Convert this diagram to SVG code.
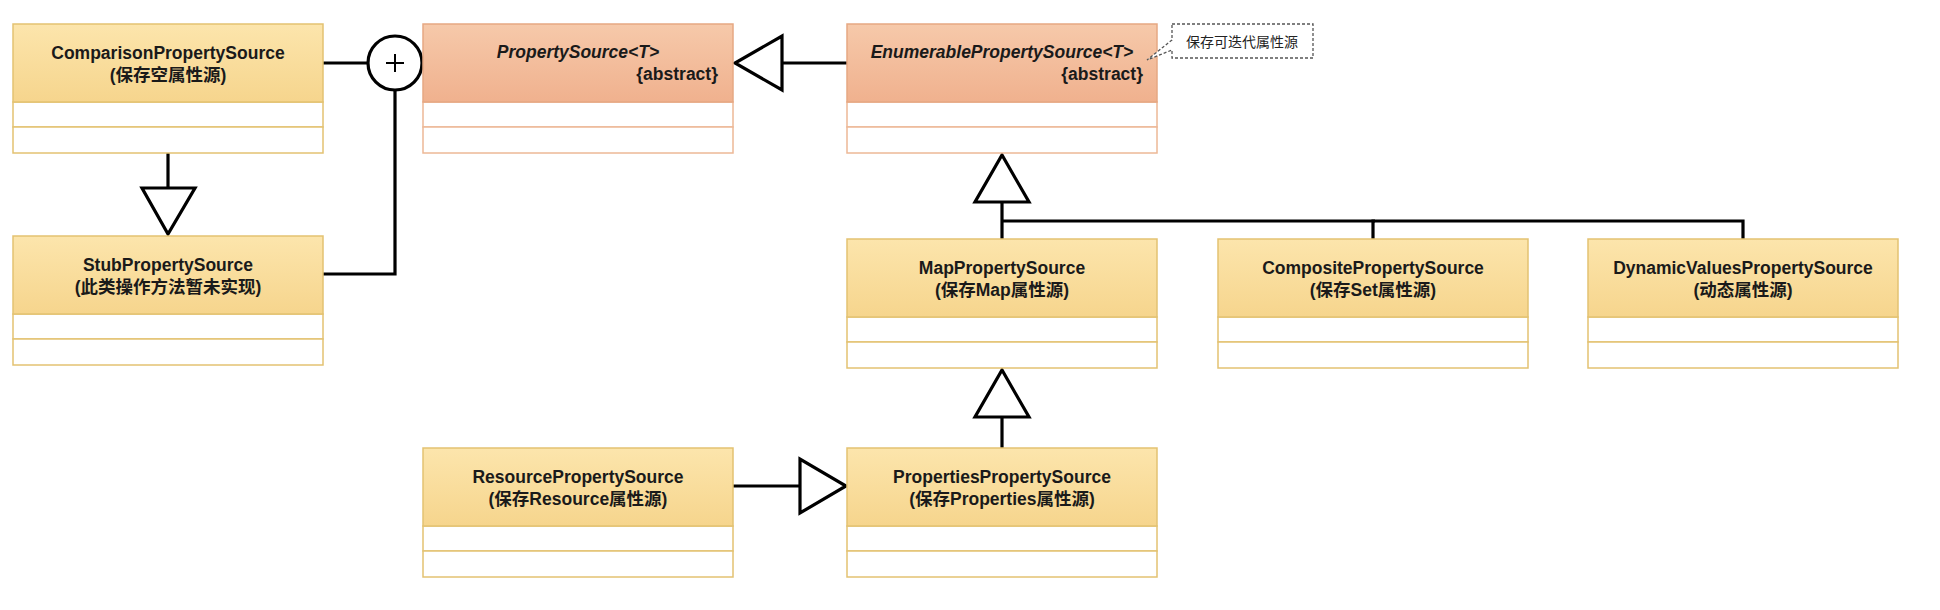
<svg xmlns="http://www.w3.org/2000/svg" width="1940" height="610" viewBox="0 0 1940 610">
<style>
.hdr{fill:url(#gy);stroke:#E3C272;stroke-width:1.5}
.hdra{fill:url(#go);stroke:#E6A883;stroke-width:1.5}
.cmp{fill:#FFFFFF;stroke:#E3C272;stroke-width:1.5}
.cmpa{fill:#FFFFFF;stroke:#EDB896;stroke-width:1.5}
.t{font-family:"Liberation Sans","Noto Sans CJK SC",sans-serif;font-weight:bold;font-size:17.5px;fill:#1a1a1a;text-anchor:middle}
.ti{font-style:italic}
.ab{text-anchor:end}
.note{font-family:"Noto Sans CJK SC",sans-serif;font-size:14px;fill:#222;text-anchor:middle}
.ln{fill:none;stroke:#000;stroke-width:3.2}
.tri{fill:#FFFFFF;stroke:#000;stroke-width:3.2;stroke-linejoin:miter}
</style>
<defs>
<linearGradient id="gy" x1="0" y1="0" x2="0" y2="1">
<stop offset="0" stop-color="#FCE5AC"/>
<stop offset="1" stop-color="#F6D58D"/>
</linearGradient>
<linearGradient id="go" x1="0" y1="0" x2="0" y2="1">
<stop offset="0" stop-color="#F6C9AA"/>
<stop offset="1" stop-color="#F0B18E"/>
</linearGradient>
</defs>
<rect width="1940" height="610" fill="#FFFFFF"/>

<g id="connectors">
<line class="ln" x1="168" y1="153" x2="168" y2="188"/>
<polygon class="tri" points="142,188 195,188 168,234"/>
<line class="ln" x1="323" y1="63" x2="368" y2="63"/>
<polyline class="ln" points="323,274 395,274 395,90"/>
<circle cx="395" cy="63" r="27" fill="#FFFFFF" stroke="#000" stroke-width="3.2"/>
<line x1="386" y1="63" x2="404" y2="63" stroke="#000" stroke-width="2"/>
<line x1="395" y1="54" x2="395" y2="72" stroke="#000" stroke-width="2"/>
<line class="ln" x1="847" y1="63" x2="782" y2="63"/>
<polygon class="tri" points="782,36 782,90 735,63"/>
<line class="ln" x1="1002" y1="202" x2="1002" y2="239"/>
<polyline class="ln" points="1373,239 1373,221 1743,221 1743,239"/>
<line class="ln" x1="1002" y1="221" x2="1375" y2="221"/>
<polygon class="tri" points="975,202 1029,202 1002,155"/>
<line class="ln" x1="1002" y1="417" x2="1002" y2="448"/>
<polygon class="tri" points="975,417 1029,417 1002,370"/>
<line class="ln" x1="733" y1="486" x2="800" y2="486"/>
<polygon class="tri" points="800,459 800,513 846,486"/>
</g>

<g id="ComparisonPropertySource">
<rect class="cmp" x="13" y="102" width="310" height="25"/>
<rect class="cmp" x="13" y="127" width="310" height="26"/>
<rect class="hdr" x="13" y="24" width="310" height="78"/>
<text class="t" x="168" y="59">ComparisonPropertySource</text>
<text class="t" x="168" y="81">(保存空属性源)</text>
</g>

<g id="StubPropertySource">
<rect class="cmp" x="13" y="314" width="310" height="25"/>
<rect class="cmp" x="13" y="339" width="310" height="26"/>
<rect class="hdr" x="13" y="236" width="310" height="78"/>
<text class="t" x="168" y="271">StubPropertySource</text>
<text class="t" x="168" y="293">(此类操作方法暂未实现)</text>
</g>

<g id="PropertySource">
<rect class="cmpa" x="423" y="102" width="310" height="25"/>
<rect class="cmpa" x="423" y="127" width="310" height="26"/>
<rect class="hdra" x="423" y="24" width="310" height="78"/>
<text class="t ti" x="578" y="58">PropertySource&lt;T&gt;</text>
<text class="t ab" x="718" y="80">{abstract}</text>
</g>

<g id="EnumerablePropertySource">
<rect class="cmpa" x="847" y="102" width="310" height="25"/>
<rect class="cmpa" x="847" y="127" width="310" height="26"/>
<rect class="hdra" x="847" y="24" width="310" height="78"/>
<text class="t ti" x="1002" y="58">EnumerablePropertySource&lt;T&gt;</text>
<text class="t ab" x="1143" y="80">{abstract}</text>
</g>

<g id="note">
<path d="M1172,24 H1313 V58 H1172 V50 L1147,60 L1172,40 Z" fill="#FFFFFF" stroke="#555" stroke-width="1.3" stroke-dasharray="3,2"/>
<text class="note" x="1242" y="47">保存可迭代属性源</text>
</g>

<g id="MapPropertySource">
<rect class="cmp" x="847" y="317" width="310" height="25"/>
<rect class="cmp" x="847" y="342" width="310" height="26"/>
<rect class="hdr" x="847" y="239" width="310" height="78"/>
<text class="t" x="1002" y="274">MapPropertySource</text>
<text class="t" x="1002" y="296">(保存Map属性源)</text>
</g>

<g id="CompositePropertySource">
<rect class="cmp" x="1218" y="317" width="310" height="25"/>
<rect class="cmp" x="1218" y="342" width="310" height="26"/>
<rect class="hdr" x="1218" y="239" width="310" height="78"/>
<text class="t" x="1373" y="274">CompositePropertySource</text>
<text class="t" x="1373" y="296">(保存Set属性源)</text>
</g>

<g id="DynamicValuesPropertySource">
<rect class="cmp" x="1588" y="317" width="310" height="25"/>
<rect class="cmp" x="1588" y="342" width="310" height="26"/>
<rect class="hdr" x="1588" y="239" width="310" height="78"/>
<text class="t" x="1743" y="274">DynamicValuesPropertySource</text>
<text class="t" x="1743" y="296">(动态属性源)</text>
</g>

<g id="ResourcePropertySource">
<rect class="cmp" x="423" y="526" width="310" height="25"/>
<rect class="cmp" x="423" y="551" width="310" height="26"/>
<rect class="hdr" x="423" y="448" width="310" height="78"/>
<text class="t" x="578" y="483">ResourcePropertySource</text>
<text class="t" x="578" y="505">(保存Resource属性源)</text>
</g>

<g id="PropertiesPropertySource">
<rect class="cmp" x="847" y="526" width="310" height="25"/>
<rect class="cmp" x="847" y="551" width="310" height="26"/>
<rect class="hdr" x="847" y="448" width="310" height="78"/>
<text class="t" x="1002" y="483">PropertiesPropertySource</text>
<text class="t" x="1002" y="505">(保存Properties属性源)</text>
</g>
</svg>
